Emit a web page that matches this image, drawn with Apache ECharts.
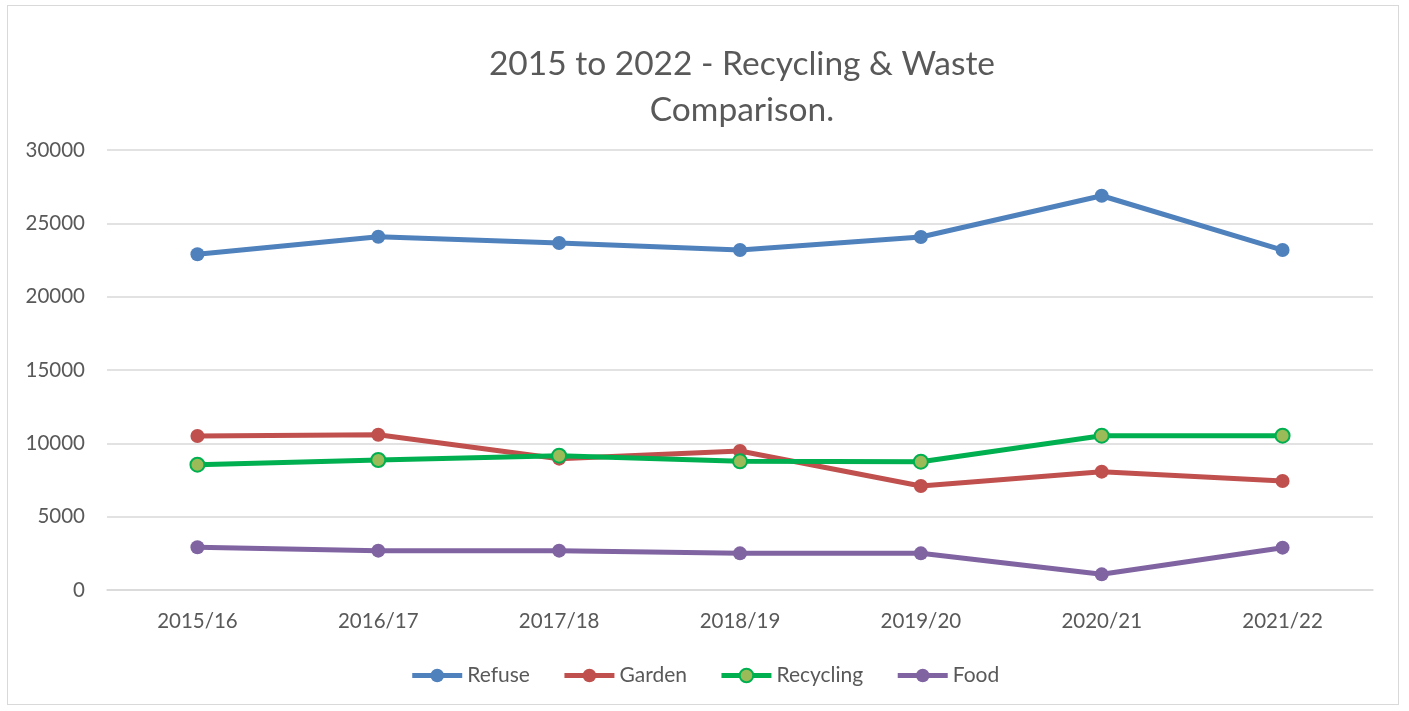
<!DOCTYPE html>
<html>
<head>
<meta charset="utf-8">
<script src="https://cdn.jsdelivr.net/npm/echarts@6/dist/echarts.min.js"></script>
<style>
html,body{margin:0;padding:0;background:#fff;}
#frame{position:absolute;left:7px;top:5px;width:1392px;height:700px;border:1px solid #d9d9d9;box-sizing:border-box;}
#chart{position:absolute;left:0;top:0;width:1409px;height:711px;}
</style>
</head>
<body>
<div id="frame"></div>
<div id="chart"></div>
<script>
const categories = ['2015/16','2016/17','2017/18','2018/19','2019/20','2020/21','2021/22'];
const refuse    = [22890, 24090, 23660, 23180, 24070, 26880, 23180];
const garden    = [10500, 10590, 8955, 9477, 7091, 8068, 7432];
const recycling = [8545, 8864, 9159, 8773, 8750, 10523, 10523];
const food      = [2910, 2682, 2682, 2500, 2500, 1068, 2886];
const titleText = '2015 to 2022 - Recycling & Waste\nComparison.';

const chart = echarts.init(document.getElementById('chart'));
const font = 'Lato, "Open Sans", sans-serif';
function mk(name, data, color, fill) {
  return {
    name, type: 'line', data,
    symbol: 'circle', symbolSize: 14,
    lineStyle: { width: 5, color },
    itemStyle: { color: fill || color, borderColor: color, borderWidth: fill ? 2 : 0 },
    emphasis: { disabled: true }
  };
}
chart.setOption({
  animation: false,
  title: {
    text: titleText, left: 737, top: 36, textAlign: 'center',
    textStyle: { fontFamily: font, fontSize: 33.5, fontWeight: 'normal', color: '#595959', lineHeight: 46 }
  },
  legend: {
    bottom: 20, left: 'center', itemWidth: 50, itemHeight: 17, itemGap: 32,
    textStyle: { fontFamily: font, fontSize: 21, color: '#595959' },
    lineStyle: { width: 5 },
    data: ['Refuse','Garden','Recycling','Food']
  },
  grid: { left: 107, right: 36, top: 150, bottom: 121 },
  xAxis: {
    type: 'category', data: categories, boundaryGap: true,
    axisLine: { lineStyle: { color: '#d9d9d9', width: 1.5 } },
    axisTick: { show: false },
    axisLabel: { fontFamily: font, fontSize: 20.5, color: '#595959', margin: 21 }
  },
  yAxis: {
    type: 'value', min: 0, max: 30000, interval: 5000,
    axisLine: { show: false }, axisTick: { show: false },
    splitLine: { lineStyle: { color: '#d9d9d9', width: 1.5 } },
    axisLabel: { fontFamily: font, fontSize: 20.5, color: '#595959', margin: 22, formatter: v => String(v) }
  },
  series: [
    mk('Refuse', refuse, '#4F81BD'),
    mk('Garden', garden, '#C0504D'),
    mk('Recycling', recycling, '#00B050', '#9BBB59'),
    mk('Food', food, '#8064A2')
  ]
});
</script>
</body>
</html>
